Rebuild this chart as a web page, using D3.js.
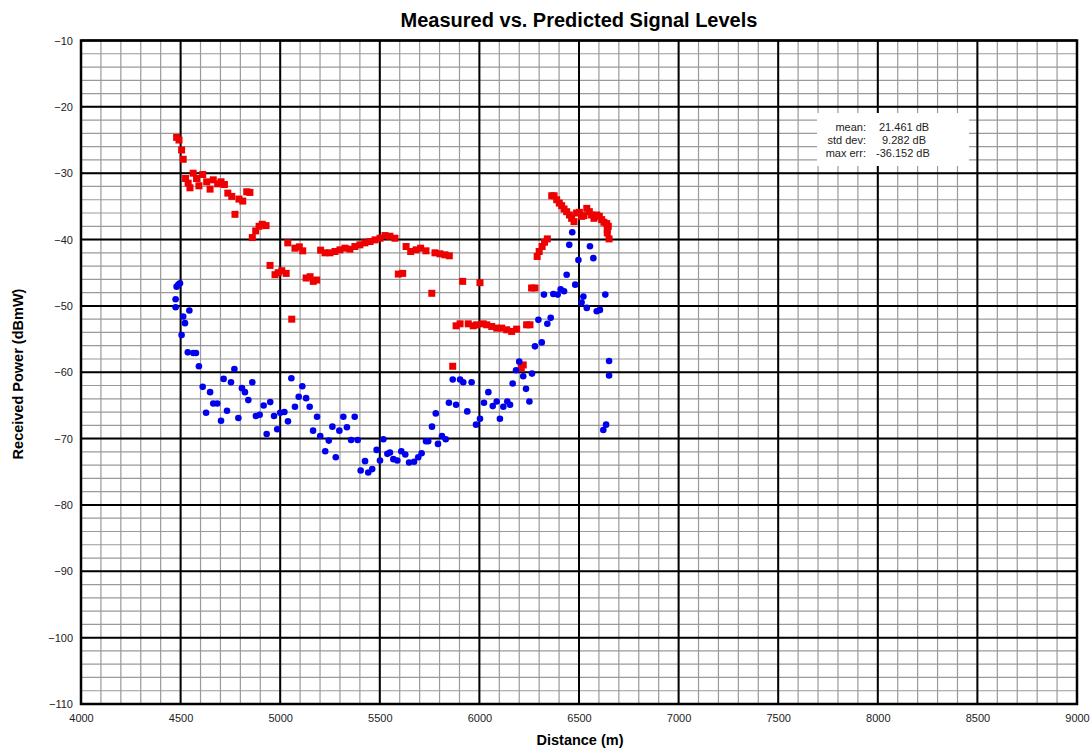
<!DOCTYPE html>
<html>
<head>
<meta charset="utf-8">
<script src="https://cdn.jsdelivr.net/npm/d3@7"></script>
<style>
  body { margin: 0; background: #fff; }
  text { font-family: "Liberation Sans", Arial, sans-serif; }
</style>
</head>
<body>
<svg id="svg" width="1091" height="749"></svg>
<script>
// predicted (red squares)
var predX = [4480,4492,4505,4513,4525,4538,4547,4563,4580,4592,4611,4631,4648,4664,4686,4703,4720,4737,4757,4773,
  4793,4812,4832,4848,4860,4877,4894,4910,4929,4949,4974,4990,5008,5030,5038,5058,5074,5096,5113,5130,
  5150,5166,5183,5203,5225,5250,5275,5300,5325,5350,5375,5400,5425,5451,5476,5501,5526,5551,5576,5593,
  5615,5632,5655,5682,5705,5732,5761,5777,5802,5827,5849,5866,5883,5903,5916,5944,5969,5986,6003,6019,
  6037,6062,6087,6112,6137,6162,6187,6210,6220,6237,6254,6262,6279,6290,6300,6315,6327,6341,6363,6375,
  6388,6401,6413,6425,6438,6452,6463,6475,6488,6502,6513,6525,6539,6552,6563,6575,6589,6602,6614,6625,
  6639,6647,6642,6642,6651];
var predY = [-24.6,-25.0,-26.5,-27.9,-30.8,-31.5,-32.2,-30.0,-30.8,-31.9,-30.2,-31.3,-32.4,-31.0,-31.6,-31.3,-31.7,-33.0,-33.5,-36.2,
  -33.9,-34.2,-32.8,-32.9,-39.7,-38.7,-38.0,-37.7,-37.9,-43.9,-45.3,-45.0,-44.7,-45.1,-40.5,-52.0,-41.3,-41.1,-41.7,-45.8,
  -45.6,-46.3,-46.1,-41.6,-42.0,-42.0,-41.8,-41.55,-41.3,-41.45,-41.05,-40.8,-40.5,-40.3,-40.05,-39.8,-39.4,-39.5,-39.8,-45.2,
  -45.1,-41.05,-41.8,-41.55,-41.3,-41.7,-48.1,-42.0,-42.15,-42.3,-42.45,-59.1,-53.0,-52.7,-46.3,-52.7,-53.0,-52.85,-46.5,-52.7,
  -52.85,-53.1,-53.35,-53.35,-53.6,-53.85,-53.5,-59.4,-58.9,-52.85,-52.85,-47.3,-47.3,-42.55,-41.8,-41.05,-40.4,-39.9,-33.4,-33.4,
  -34.0,-34.5,-34.9,-35.4,-35.8,-36.3,-36.8,-37.3,-36.0,-35.9,-36.5,-36.4,-35.3,-35.8,-36.3,-36.8,-36.3,-36.5,-37.0,-37.4,
  -37.6,-38.0,-38.5,-39.0,-39.9];

// measured (blue circles)
var measX = [4480,4489,4497,4475,4475,4513,4522,4544,4505,4536,4564,4577,4592,4611,4628,4648,4664,4684,4703,4716,
  4733,4753,4770,4790,4808,4823,4840,4860,4878,4897,4917,4932,4950,4969,4985,5000,5021,5039,5056,5074,
  5093,5111,5130,5148,5165,5185,5201,5226,5244,5262,5279,5297,5317,5335,5356,5374,5389,5404,5426,5442,
  5462,5484,5501,5518,5538,5551,5568,5588,5608,5628,5647,5672,5693,5710,5732,5743,5762,5781,5792,5812,
  5831,5847,5866,5883,5903,5919,5939,5961,5983,6003,6023,6045,6067,6087,6103,6120,6140,6154,6167,6184,
  6200,6220,6234,6251,6264,6279,6296,6313,6324,6341,6358,6371,6393,6408,6425,6438,6451,6466,6481,6497,
  6513,6522,6539,6555,6572,6589,6605,6632,6651,6651,6636,6622];
var measY = [-47.1,-46.8,-46.6,-49.0,-50.2,-51.6,-52.6,-50.7,-54.4,-57.0,-57.1,-57.1,-59.1,-62.2,-66.1,-63.0,-64.7,-64.7,-67.3,-61.0,
  -65.8,-61.5,-59.5,-66.9,-62.4,-63.0,-64.2,-61.5,-66.6,-66.4,-65.0,-69.3,-64.5,-66.6,-68.6,-66.1,-66.0,-67.4,-60.9,-65.2,
  -63.7,-62.1,-63.9,-65.2,-68.8,-66.7,-69.6,-71.9,-70.3,-68.2,-72.8,-68.8,-66.7,-68.3,-70.2,-66.7,-70.2,-74.8,-73.4,-75.1,
  -74.6,-71.7,-73.3,-70.1,-72.3,-72.1,-73.1,-73.3,-71.9,-72.4,-73.6,-73.5,-72.8,-72.2,-70.4,-70.4,-68.2,-66.2,-70.8,-69.6,
  -70.1,-64.6,-61.1,-64.9,-61.1,-61.5,-65.9,-61.5,-67.9,-67.0,-64.6,-63.0,-65.1,-64.4,-67.0,-65.2,-64.4,-64.9,-61.7,-59.7,
  -58.4,-60.6,-62.5,-64.4,-60.2,-56.1,-52.1,-55.5,-48.3,-52.7,-51.8,-48.2,-48.3,-47.5,-47.8,-45.3,-40.8,-38.9,-46.8,-43.1,
  -49.5,-48.6,-50.3,-41.0,-42.8,-50.8,-50.6,-48.3,-58.3,-60.5,-67.9,-68.7];

var statLabels = ["mean:", "std dev:", "max err:"];
var statValues = ["21.461 dB", "9.282 dB", "-36.152 dB"];

var xTicks = d3.range(4000, 9001, 500);
var yTicks = d3.range(-110, -9, 10);

var svg = d3.select("#svg");
var x = d3.scaleLinear().domain([4000, 9000]).range([81, 1077]);
var y = d3.scaleLinear().domain([-110, -10]).range([704, 40.5]);

var plot = svg.append("g");
plot.append("rect")
    .attr("x", x(4000)).attr("y", y(-10))
    .attr("width", x(9000) - x(4000)).attr("height", y(-110) - y(-10))
    .attr("fill", "#fff");

// minor grid
plot.selectAll(".mx").data(d3.range(4000, 9001, 100)).enter().append("line")
    .attr("x1", d => x(d)).attr("x2", d => x(d))
    .attr("y1", y(-10)).attr("y2", y(-110))
    .attr("stroke", "#9a9a9a").attr("stroke-width", 1.2);
plot.selectAll(".my").data(d3.range(-110, -9, 2)).enter().append("line")
    .attr("y1", d => y(d)).attr("y2", d => y(d))
    .attr("x1", x(4000)).attr("x2", x(9000))
    .attr("stroke", "#9a9a9a").attr("stroke-width", 1.2);

// major grid
plot.selectAll(".Mx").data(xTicks).enter().append("line")
    .attr("x1", d => x(d)).attr("x2", d => x(d))
    .attr("y1", y(-10)).attr("y2", y(-110))
    .attr("stroke", "#000").attr("stroke-width", 2);
plot.selectAll(".My").data(yTicks).enter().append("line")
    .attr("y1", d => y(d)).attr("y2", d => y(d))
    .attr("x1", x(4000)).attr("x2", x(9000))
    .attr("stroke", "#000").attr("stroke-width", 2);

plot.append("rect")
    .attr("x", x(4000)).attr("y", y(-10))
    .attr("width", x(9000) - x(4000)).attr("height", y(-110) - y(-10))
    .attr("fill", "none").attr("stroke", "#000").attr("stroke-width", 2.5);

// axes (labels only)
var xAxis = svg.append("g").attr("transform", "translate(0," + y(-110) + ")")
    .call(d3.axisBottom(x).tickValues(xTicks).tickSize(0).tickPadding(10).tickFormat(d3.format("d")));
var yAxis = svg.append("g").attr("transform", "translate(" + x(4000) + ",0)")
    .call(d3.axisLeft(y).tickValues(yTicks).tickSize(0).tickPadding(8).tickFormat(d3.format("d")));
[xAxis, yAxis].forEach(a => {
    a.select(".domain").remove();
    a.selectAll("text").attr("font-size", 11).attr("fill", "#222")
        .attr("font-family", "Liberation Sans, Arial, sans-serif");
});

// stats box
var box = svg.append("g");
box.append("rect").attr("x", 817).attr("y", 113).attr("width", 152).attr("height", 53).attr("fill", "#fff");
box.selectAll(".sl").data(statLabels).enter().append("text")
    .attr("x", 866).attr("y", (d, i) => 131 + i * 13)
    .attr("text-anchor", "end").attr("font-size", 11).attr("fill", "#222")
    .text(d => d);
box.selectAll(".sv").data(statValues).enter().append("text")
    .attr("x", (d, i) => [879, 882, 876][i]).attr("y", (d, i) => 131 + i * 13)
    .attr("font-size", 11).attr("fill", "#222")
    .text(d => d);

// data
var pred = predX.map((v, i) => ({x: v, y: predY[i]}));
var meas = measX.map((v, i) => ({x: v, y: measY[i]}));

svg.append("g").selectAll("rect").data(pred).enter().append("rect")
    .attr("x", d => x(d.x) - 3.5).attr("y", d => y(d.y) - 3.5)
    .attr("width", 7).attr("height", 7)
    .attr("fill", "#ee0000");

svg.append("g").selectAll("circle").data(meas).enter().append("circle")
    .attr("cx", d => x(d.x)).attr("cy", d => y(d.y)).attr("r", 3.3)
    .attr("fill", "#0000ee");

// titles
svg.append("text").attr("x", 579).attr("y", 27).attr("text-anchor", "middle")
    .attr("font-size", 20).attr("font-weight", "bold").text("Measured vs. Predicted Signal Levels");
svg.append("text").attr("x", 580).attr("y", 745).attr("text-anchor", "middle")
    .attr("font-size", 14.5).attr("font-weight", "bold").text("Distance (m)");
svg.append("text").attr("transform", "translate(23,374) rotate(-90)").attr("text-anchor", "middle")
    .attr("font-size", 14.5).attr("font-weight", "bold").text("Received Power (dBmW)");
</script>
</body>
</html>
